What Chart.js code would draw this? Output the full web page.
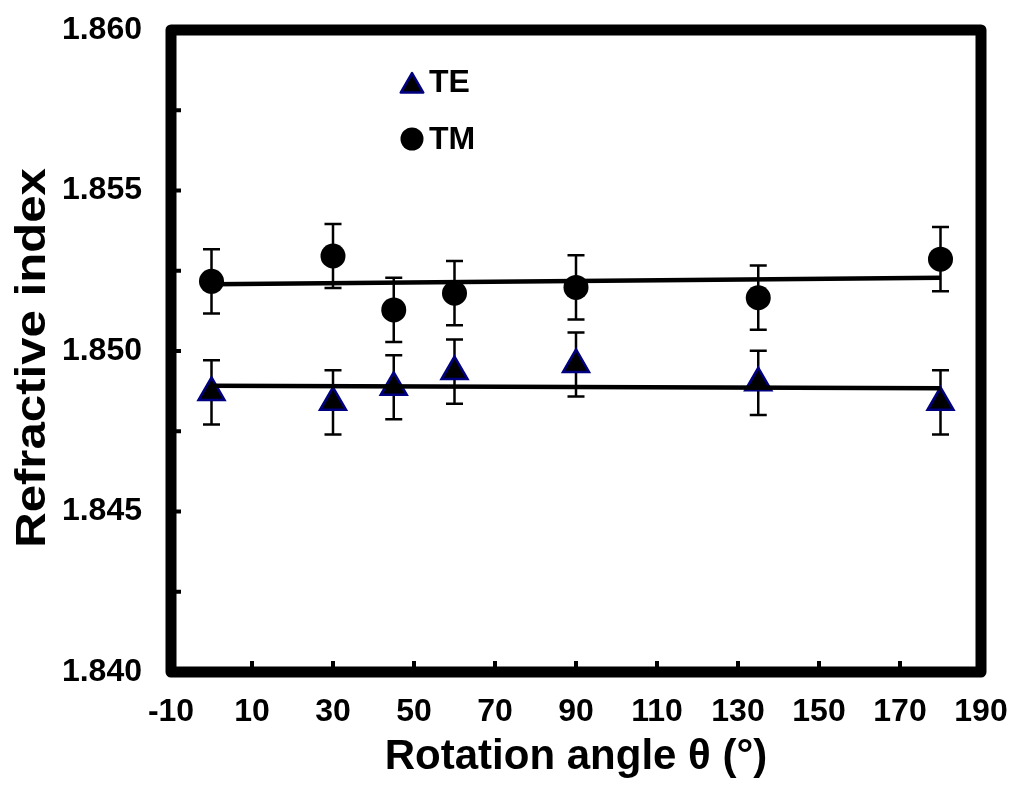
<!DOCTYPE html>
<html><head><meta charset="utf-8">
<script src="https://cdn.jsdelivr.net/npm/chart.js@4.4.0/dist/chart.umd.min.js"></script>
<style>html,body{margin:0;padding:0;background:#fff;}canvas{display:block;}</style>
</head><body>
<canvas id="c" width="1024" height="795"></canvas>
<script>
// ---- data ----
const angles   = [0, 30, 45, 60, 90, 135, 180];
const teValues = [1.84871, 1.84840, 1.84887, 1.84936, 1.84958, 1.84901, 1.84840];
const tmValues = [1.85217, 1.85296, 1.85128, 1.85180, 1.85198, 1.85166, 1.85286];
const teErrors = [0.001, 0.001, 0.001, 0.001, 0.001, 0.001, 0.001];
const tmErrors = [0.001, 0.001, 0.001, 0.001, 0.001, 0.001, 0.001];
const fitX     = [0, 180];
const teFitY   = [1.84892, 1.84884];
const tmFitY   = [1.85208, 1.85228];
const seriesNames = ['TE', 'TM'];
const xTitle = 'Rotation angle θ (°)';
const yTitle = 'Refractive index';

const FONT = "'Liberation Sans', Arial, sans-serif";
Chart.defaults.font.family = FONT;
Chart.defaults.color = '#000';

const pts = (xs, ys) => xs.map((x, i) => ({x: x, y: ys[i]}));

// plot frame (border centre lines) in canvas pixels
const AREA = {left: 171, top: 30, right: 981, bottom: 672};

const fixArea = {
  id: 'fixArea',
  afterLayout(chart) {
    const a = chart.chartArea;
    a.left = AREA.left; a.top = AREA.top; a.right = AREA.right; a.bottom = AREA.bottom;
    a.width = a.right - a.left; a.height = a.bottom - a.top;
    const xs = chart.scales.x, ys = chart.scales.y;
    xs.left = a.left; xs.right = a.right; xs.width = a.width;
    xs.top = a.bottom; xs.bottom = chart.height; xs.height = xs.bottom - xs.top;
    ys.left = 0; ys.right = a.left; ys.width = a.left;
    ys.top = a.top; ys.bottom = a.bottom; ys.height = a.height;
    xs.configure(); ys.configure();
  }
};

const decor = {
  id: 'decor',
  beforeDatasetsDraw(chart) {
    const ctx = chart.ctx, xs = chart.scales.x, ys = chart.scales.y;
    ctx.save();
    ctx.strokeStyle = '#000';
    ctx.lineWidth = 2.5;
    const cap = 8.5;
    [[teValues, teErrors], [tmValues, tmErrors]].forEach(([vals, errs]) => {
      vals.forEach((v, i) => {
        const px = xs.getPixelForValue(angles[i]);
        const y1 = ys.getPixelForValue(v + errs[i]);
        const y2 = ys.getPixelForValue(v - errs[i]);
        ctx.beginPath();
        ctx.moveTo(px, y1); ctx.lineTo(px, y2);
        ctx.moveTo(px - cap, y1); ctx.lineTo(px + cap, y1);
        ctx.moveTo(px - cap, y2); ctx.lineTo(px + cap, y2);
        ctx.stroke();
      });
    });
    ctx.restore();
  },
  afterDraw(chart) {
    const ctx = chart.ctx, a = chart.chartArea, xs = chart.scales.x, ys = chart.scales.y;
    ctx.save();
    ctx.fillStyle = '#000';
    xs.ticks.forEach(t => {
      const px = xs.getPixelForValue(t.value);
      ctx.fillRect(px - 2, a.bottom - 11, 4, 11);
    });
    ys.ticks.forEach(t => {
      const py = ys.getPixelForValue(t.value);
      ctx.fillRect(a.left, py - 2, 10, 4);
    });
    ctx.strokeStyle = '#000';
    ctx.lineWidth = 11;
    ctx.lineJoin = 'round';
    ctx.strokeRect(a.left, a.top, a.right - a.left, a.bottom - a.top);
    // y-axis title (slightly stretched along its length like the reference)
    ctx.save();
    ctx.translate(33, 358);
    ctx.rotate(-Math.PI / 2);
    ctx.scale(1.17, 1);
    ctx.font = 'bold 42px ' + FONT;
    ctx.textAlign = 'center';
    ctx.textBaseline = 'middle';
    ctx.fillStyle = '#000';
    ctx.fillText(yTitle, 0, 0);
    ctx.restore();
    // legend
    const lx = 412;
    const r = 13;
    const ty = 86;
    ctx.beginPath();
    ctx.moveTo(lx, ty - r);
    ctx.lineTo(lx + r * Math.sin(2 * Math.PI / 3), ty + r * 0.5);
    ctx.lineTo(lx - r * Math.sin(2 * Math.PI / 3), ty + r * 0.5);
    ctx.closePath();
    ctx.fillStyle = '#000';
    ctx.fill();
    ctx.strokeStyle = '#000080';
    ctx.lineWidth = 2.5;
    ctx.stroke();
    ctx.beginPath();
    ctx.arc(lx, 139, 11.5, 0, Math.PI * 2);
    ctx.fillStyle = '#000';
    ctx.fill();
    ctx.font = 'bold 32px ' + FONT;
    ctx.textAlign = 'left';
    ctx.textBaseline = 'middle';
    ctx.fillText(seriesNames[0], 429, 83);
    ctx.fillText(seriesNames[1], 429, 140);
    ctx.restore();
  }
};

new Chart(document.getElementById('c'), {
  type: 'scatter',
  data: {
    datasets: [
      {label: 'TE fit', type: 'line', data: pts(fitX, teFitY), borderColor: '#000', borderWidth: 4.5, pointRadius: 0, fill: false},
      {label: 'TM fit', type: 'line', data: pts(fitX, tmFitY), borderColor: '#000', borderWidth: 4.5, pointRadius: 0, fill: false},
      {label: seriesNames[0], data: pts(angles, teValues), pointStyle: 'triangle', pointRadius: 15, backgroundColor: '#000', borderColor: '#000080', borderWidth: 2.5},
      {label: seriesNames[1], data: pts(angles, tmValues), pointStyle: 'circle', pointRadius: 12.5, backgroundColor: '#000', borderColor: '#000', borderWidth: 0}
    ]
  },
  options: {
    responsive: false,
    devicePixelRatio: 1,
    animation: false,
    layout: {padding: {left: 0, top: 30, right: 43, bottom: 0}},
    plugins: {legend: {display: false}, tooltip: {enabled: false}},
    scales: {
      x: {
        type: 'linear', min: -10, max: 190,
        grid: {display: false, drawTicks: false},
        border: {display: false},
        ticks: {stepSize: 20, autoSkip: false, maxRotation: 0, padding: 21, font: {size: 32, weight: 'bold'}, color: '#000'},
        title: {display: true, text: xTitle, font: {size: 42, weight: 'bold'}, color: '#000', padding: {top: 0, bottom: 12}},
        afterFit(s) { s.height = 123; }
      },
      y: {
        type: 'linear', min: 1.84, max: 1.86,
        grid: {display: false, drawTicks: false},
        border: {display: false},
        ticks: {stepSize: 0.0025, autoSkip: false, padding: 29, font: {size: 32, weight: 'bold'}, color: '#000',
          callback: (v, i) => (i % 2 === 0 ? Number(v).toFixed(3) : '')},
        title: {display: false},
        afterFit(s) { s.width = 171; }
      }
    }
  },
  plugins: [fixArea, decor]
});
</script>
</body></html>
